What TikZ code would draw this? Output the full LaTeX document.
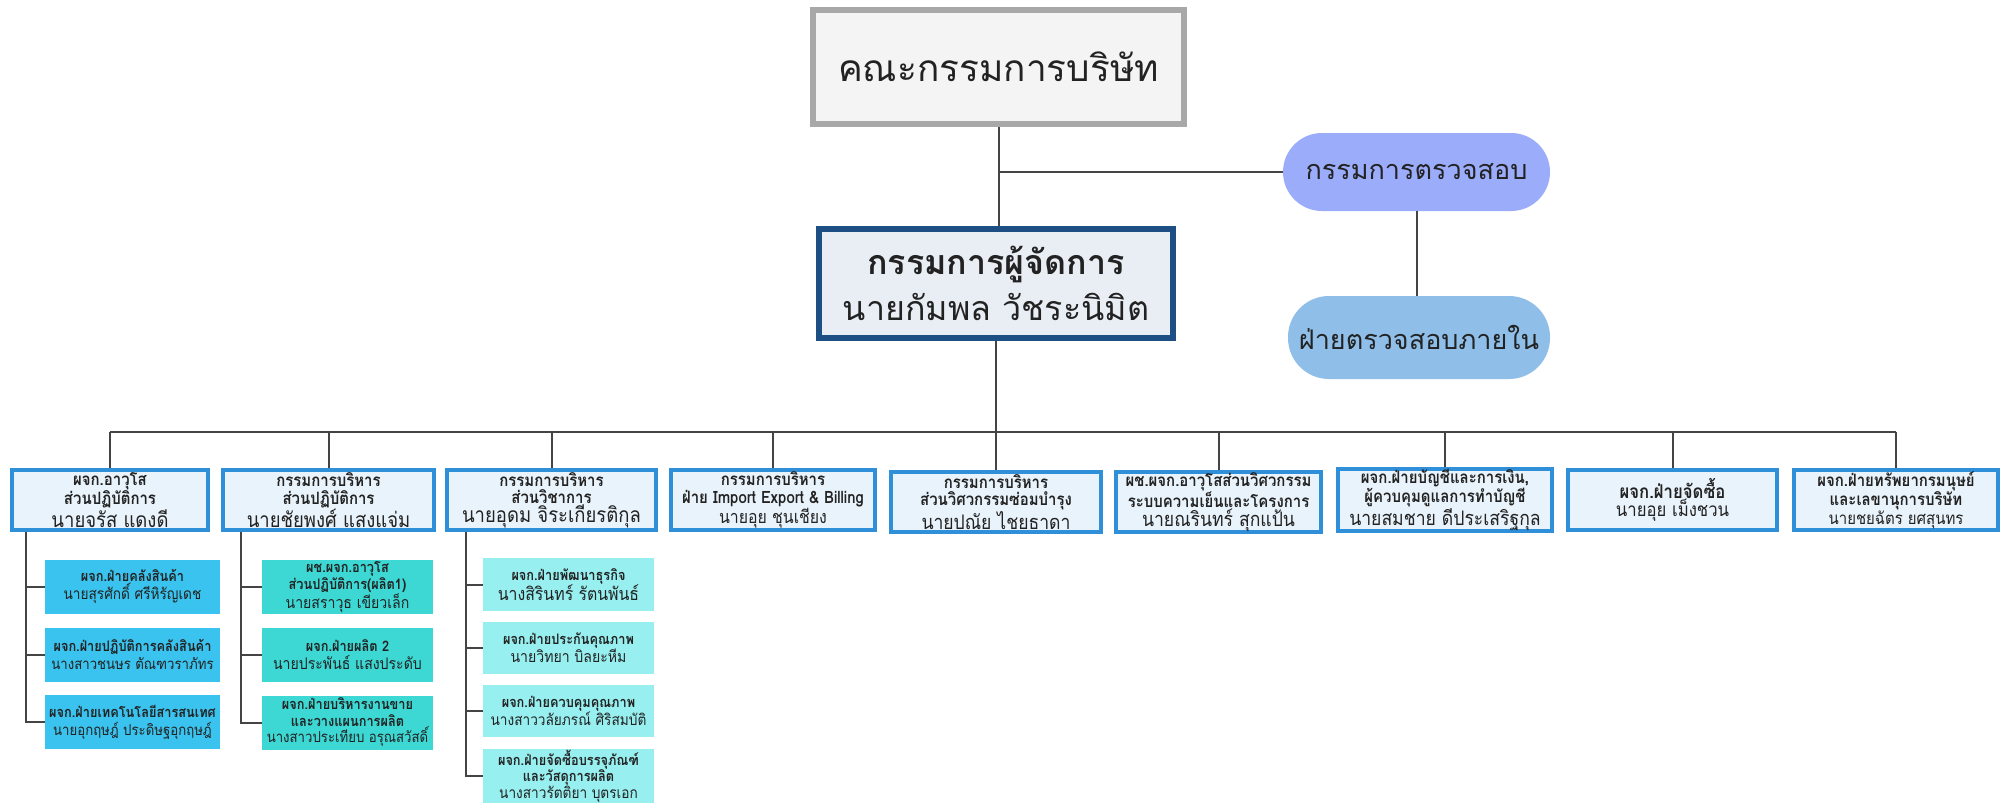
\documentclass[tikz,border=0pt]{standalone}
\usepackage{fontspec}
\setmainfont[Script=Thai]{Loma}
\newfontfamily\cond[Script=Thai,FakeStretch=0.88]{Loma}
\usetikzlibrary{calc}
\definecolor{boardgray}{HTML}{A8A8A8}
\definecolor{boardfill}{HTML}{F4F4F4}
\definecolor{navy}{HTML}{1D4F85}
\definecolor{mdfill}{HTML}{E9EEF5}
\definecolor{auditc}{HTML}{9AACFA}
\definecolor{internc}{HTML}{8FBFE8}
\definecolor{ltwoborder}{HTML}{2F8FD8}
\definecolor{ltwofill}{HTML}{E9F3FB}
\definecolor{colA}{HTML}{3AC3EE}
\definecolor{colB}{HTML}{3DD8D4}
\definecolor{colC}{HTML}{98EFF0}
\definecolor{textdark}{HTML}{222222}
\definecolor{linec}{HTML}{444444}
\newcommand{\fs}[2]{\fontsize{#1}{#2}\selectfont}
\begin{document}
\begin{tikzpicture}[x=1pt,y=-1pt,
  conn/.style={draw=linec, line width=2pt},
  board/.style={draw=boardgray, line width=6pt, fill=boardfill, minimum width=371pt, minimum height=114pt, inner sep=0pt, text=textdark, font=\fs{37}{46}},
  mdbox/.style={draw=navy, line width=6pt, fill=mdfill, minimum width=354pt, minimum height=109pt, inner sep=0pt, align=center, text=textdark, font=\fs{34}{46}},
  pill/.style={rounded corners=39pt, minimum height=78pt, inner sep=0pt, text=textdark, font=\fs{27}{32}},
  ltwo/.style={draw=ltwoborder, line width=4pt, fill=ltwofill, minimum height=60pt, inner sep=1pt, align=center, text=textdark, font=\cond\fs{17}{17.5}},
  lthree/.style={minimum width=175pt, minimum height=54pt, inner sep=1pt, align=center, text=textdark, font=\cond\fs{14.5}{18}},
]
\useasboundingbox (0,0) rectangle (2013,803);
\clip (0,0) rectangle (2013,803);
\fill[white] (0,0) rectangle (2013,803);

% top
\node[board] (board) at (998.5,67) {คณะกรรมการบริษัท};
\node[mdbox] (md) at (996,283.5) {{\bfseries กรรมการผู้จัดการ}\\นายกัมพล วัชระนิมิต};
\node[pill, fill=auditc, minimum width=267pt] (audit) at (1416.5,172) {กรรมการตรวจสอบ};
\node[pill, fill=internc, minimum width=262pt, minimum height=83pt, rounded corners=41pt] (intern) at (1419,337.5) {ฝ่ายตรวจสอบภายใน};

\coordinate (bus) at (996,432);

% level 2
\node[ltwo, minimum width=196pt] (b1) at (110,500) {{\bfseries ผจก.อาวุโส}\\{\bfseries ส่วนปฏิบัติการ}\\{\fs{21}{22}นายจรัส แดงดี}};
\node[ltwo, minimum width=211pt] (b2) at (328.5,500) {{\bfseries กรรมการบริหาร}\\{\bfseries ส่วนปฏิบัติการ}\\{\fs{21}{22}นายชัยพงศ์ แสงแจ่ม}};
\node[ltwo, minimum width=209pt] (b3) at (551.5,500) {{\bfseries กรรมการบริหาร}\\{\bfseries ส่วนวิชาการ}\\{\fs{21}{22}นายอุดม จิระเกียรติกุล}};
\node[ltwo, minimum width=204pt] (b4) at (773,500) {{\bfseries กรรมการบริหาร}\\{\bfseries ฝ่าย Import Export \& Billing}\\{\fs{18}{20}นายอุย ชุนเชียง}};
\node[ltwo, minimum width=210pt] (b5) at (996,502) {{\bfseries กรรมการบริหาร}\\{\bfseries ส่วนวิศวกรรมซ่อมบำรุง}\\{\fs{20}{21}นายปณัย ไชยธาดา}};
\node[ltwo, minimum width=205pt] (b6) at (1218.5,502) {{\bfseries ผช.ผจก.อาวุโสส่วนวิศวกรรม}\\{\bfseries ระบบความเย็นและโครงการ}\\{\fs{20}{21}นายณรินทร์ สุกแป้น}};
\node[ltwo, minimum width=214pt] (b7) at (1445,500) {{\bfseries ผจก.ฝ่ายบัญชีและการเงิน,}\\{\bfseries ผู้ควบคุมดูแลการทำบัญชี}\\{\fs{20}{21}นายสมชาย ดีประเสริฐกุล}};
\node[ltwo, minimum width=209pt] (b8) at (1672.5,500) {{\bfseries\fs{19}{24}ผจก.ฝ่ายจัดซื้อ}\\{\fs{19}{22}นายอุย เม็งชวน}};
\node[ltwo, minimum width=204pt] (b9) at (1896,500) {{\bfseries ผจก.ฝ่ายทรัพยากรมนุษย์}\\{\bfseries และเลขานุการบริษัท}\\{\fs{17}{19}นายชยฉัตร ยศสุนทร}};

% level 3, column 1
\coordinate (s1) at (26,0);
\node[lthree, fill=colA] (a1) at (132.5,586.5) {{\bfseries ผจก.ฝ่ายคลังสินค้า}\\{\fs{15.5}{18}นายสุรศักดิ์ ศรีหิรัญเดช}};
\node[lthree, fill=colA] (a2) at (132.5,654.5) {{\bfseries ผจก.ฝ่ายปฏิบัติการคลังสินค้า}\\{\fs{15}{18}นางสาวชนษร ตัณฑวราภัทร}};
\node[lthree, fill=colA] (a3) at (132.5,722) {{\bfseries ผจก.ฝ่ายเทคโนโลยีสารสนเทศ}\\{\fs{15}{18}นายอุกฤษฎ์ ประดิษฐอุกฤษฎ์}};
% column 2
\coordinate (s2) at (241,0);
\node[lthree, fill=colB, minimum width=171pt, font=\cond\fs{14.5}{16.5}] (c1) at (347.5,587) {{\bfseries ผช.ผจก.อาวุโส}\\{\bfseries ส่วนปฏิบัติการ(ผลิต1)}\\{\fs{16}{17}นายสราวุธ เขียวเล็ก}};
\node[lthree, fill=colB, minimum width=171pt] (c2) at (347.5,655) {{\bfseries ผจก.ฝ่ายผลิต 2}\\{\fs{16}{18}นายประพันธ์ แสงประดับ}};
\node[lthree, fill=colB, minimum width=171pt, font=\cond\fs{14.5}{16.5}] (c3) at (347.5,722.5) {{\bfseries ผจก.ฝ่ายบริหารงานขาย}\\{\bfseries และวางแผนการผลิต}\\{\fs{15}{17}นางสาวประเทียบ อรุณสวัสดิ์}};
% column 3
\coordinate (s3) at (466,0);
\node[lthree, fill=colC, minimum width=171pt, minimum height=53pt] (d1) at (568.5,584.5) {{\bfseries ผจก.ฝ่ายพัฒนาธุรกิจ}\\{\fs{18}{20}นางสิรินทร์ รัตนพันธ์}};
\node[lthree, fill=colC, minimum width=171pt, minimum height=52pt] (d2) at (568.5,648) {{\bfseries ผจก.ฝ่ายประกันคุณภาพ}\\{\fs{16}{18}นายวิทยา บิลยะหีม}};
\node[lthree, fill=colC, minimum width=171pt, minimum height=52pt] (d3) at (568.5,711) {{\bfseries ผจก.ฝ่ายควบคุมคุณภาพ}\\{\fs{15.5}{18}นางสาววลัยภรณ์ ศิริสมบัติ}};
\node[lthree, fill=colC, minimum width=171pt, minimum height=48pt, font=\cond\fs{14.5}{16}] (d4) at (568.5,776) {{\bfseries ผจก.ฝ่ายจัดซื้อบรรจุภัณฑ์}\\{\bfseries และวัสดุการผลิต}\\{\fs{15.5}{16}นางสาวรัตติยา บุตรเอก}};

% connectors
\draw[conn] (board.south) -- (board.south |- md.north);
\draw[conn] (board.south |- audit.west) -- (audit.west);
\draw[conn] (audit.south) -- (audit.south |- intern.north);
\draw[conn] (md.south) -- (bus);
\draw[conn] (b1.north |- bus) -- (b9.north |- bus);
\foreach \b in {b1,b2,b3,b4,b5,b6,b7,b8,b9} {
  \draw[conn] (\b.north |- bus) -- (\b.north);
}
\draw[conn] (s1 |- b1.south) -- (s1 |- a3.west) -- (a3.west);
\draw[conn] (s1 |- a1.west) -- (a1.west);
\draw[conn] (s1 |- a2.west) -- (a2.west);
\draw[conn] (s2 |- b2.south) -- (s2 |- c3.west) -- (c3.west);
\draw[conn] (s2 |- c1.west) -- (c1.west);
\draw[conn] (s2 |- c2.west) -- (c2.west);
\draw[conn] (s3 |- b3.south) -- (s3 |- d4.west) -- (d4.west);
\draw[conn] (s3 |- d1.west) -- (d1.west);
\draw[conn] (s3 |- d2.west) -- (d2.west);
\draw[conn] (s3 |- d3.west) -- (d3.west);
\end{tikzpicture}
\end{document}
